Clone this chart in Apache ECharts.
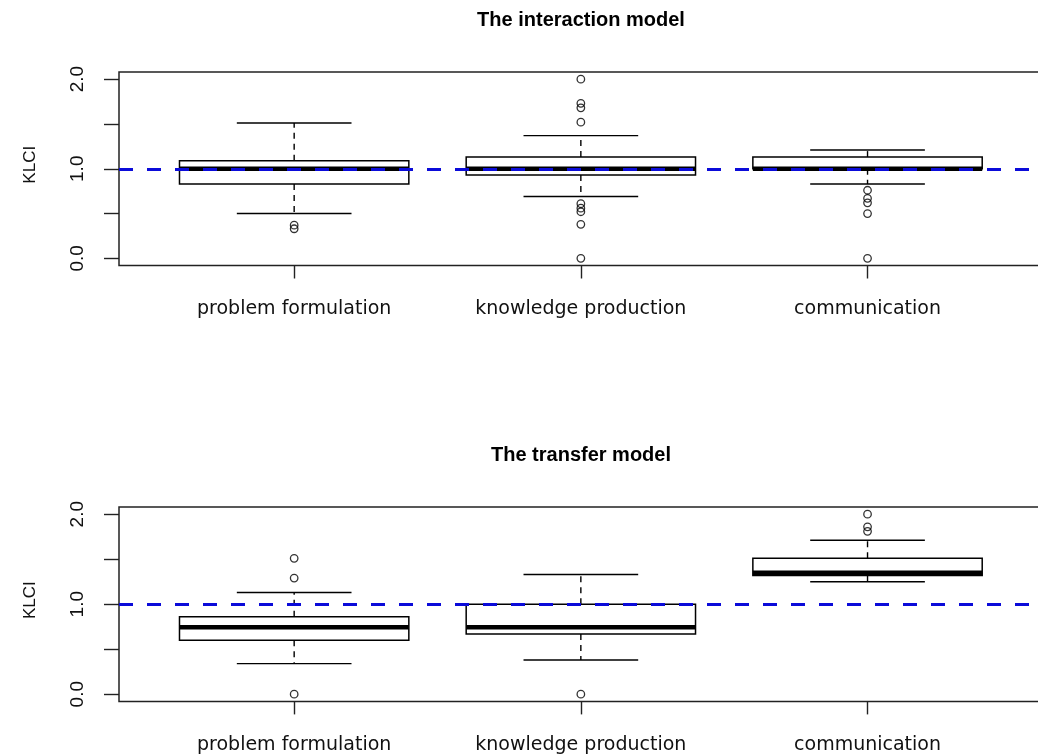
<!DOCTYPE html>
<html>
<head>
<meta charset="utf-8">
<title>KLCI boxplots</title>
<script src="https://cdn.jsdelivr.net/npm/echarts@6.0.0/dist/echarts.min.js"></script>
<style>
  html, body { margin: 0; padding: 0; background: #fff; }
  #chart { width: 1038px; height: 754px; }
</style>
</head>
<body>
<div id="chart"></div>
<script>
// categories on the x axis (positions 1, 2, 3)
const categories = ['problem formulation', 'knowledge production', 'communication']

// box stats per category: [lower whisker, Q1, median, Q3, upper whisker]
const interactionStats = [
  [0.50, 0.83, 1.00, 1.09, 1.51],
  [0.69, 0.93, 1.00, 1.13, 1.37],
  [0.83, 1.00, 1.00, 1.13, 1.21]
]
const interactionOutliers = [
  [0.33, 0.37],
  [0.00, 0.38, 0.52, 0.56, 0.61, 1.52, 1.68, 1.73, 2.00],
  [0.00, 0.50, 0.62, 0.67, 0.76]
]

const transferStats = [
  [0.34, 0.60, 0.745, 0.86, 1.13],
  [0.38, 0.67, 0.745, 1.00, 1.33],
  [1.25, 1.32, 1.35, 1.51, 1.71]
]
const transferOutliers = [
  [0.00, 1.29, 1.51],
  [0.00],
  [1.81, 1.86, 2.00]
]

const yTicks = [0, 0.5, 1, 1.5, 2]
const yLabels = [0, 1, 2]
const refLevel = 1

const panels = [
  { title: 'The interaction model', stats: interactionStats, outliers: interactionOutliers, top: 72, height: 193.5, titleTop: 10 },
  { title: 'The transfer model', stats: transferStats, outliers: transferOutliers, top: 507, height: 194.4, titleTop: 445 }
]

const ink = '#111'

function renderBox(params, api) {
  const x = api.value(0)
  const lo = api.coord([x, api.value(1)])
  const q1 = api.coord([x, api.value(2)])
  const med = api.coord([x, api.value(3)])
  const q3 = api.coord([x, api.value(4)])
  const hi = api.coord([x, api.value(5)])
  const bw = api.size([0.8, 0])[0]
  const cw = api.size([0.4, 0])[0]
  const cx = med[0]
  const solid = { stroke: '#000', lineWidth: 1.4 }
  const dashed = { stroke: '#000', lineWidth: 1.4, lineDash: [6, 5] }
  return {
    type: 'group',
    children: [
      { type: 'line', shape: { x1: cx, y1: q3[1], x2: cx, y2: hi[1] }, style: dashed },
      { type: 'line', shape: { x1: cx, y1: q1[1], x2: cx, y2: lo[1] }, style: dashed },
      { type: 'line', shape: { x1: cx - cw / 2, y1: hi[1], x2: cx + cw / 2, y2: hi[1] }, style: solid },
      { type: 'line', shape: { x1: cx - cw / 2, y1: lo[1], x2: cx + cw / 2, y2: lo[1] }, style: solid },
      {
        type: 'rect',
        shape: { x: cx - bw / 2, y: q3[1], width: bw, height: q1[1] - q3[1] },
        style: { fill: '#fff', stroke: '#000', lineWidth: 1.5 }
      },
      { type: 'line', shape: { x1: cx - bw / 2, y1: med[1], x2: cx + bw / 2, y2: med[1] }, style: { stroke: '#000', lineWidth: 4.5 } }
    ]
  }
}

const option = {
  backgroundColor: '#fff',
  animation: false,
  title: [],
  grid: [],
  xAxis: [],
  yAxis: [],
  series: []
}

panels.forEach((p, i) => {
  option.title.push({
    text: p.title,
    left: 581,
    top: p.titleTop,
    padding: 0,
    textAlign: 'center',
    textStyle: { fontFamily: 'Liberation Sans', fontSize: 20, fontWeight: 'bold', color: '#000' }
  })
  option.grid.push({
    left: 119,
    top: p.top,
    width: 923.7,
    height: p.height,
    outerBoundsMode: 'none',
    containLabel: false,
    show: true,
    backgroundColor: 'transparent',
    borderColor: '#222',
    borderWidth: 1.5
  })
  option.xAxis.push({
    type: 'value',
    gridIndex: i,
    min: 0.389,
    max: 3.611,
    axisLine: { show: false, onZero: false },
    splitLine: { show: false },
    axisTick: { show: true, length: 13, customValues: [1, 2, 3], lineStyle: { color: '#222', width: 1.4 } },
    axisLabel: {
      customValues: [1, 2, 3],
      margin: 34,
      fontFamily: 'DejaVu Sans',
      fontSize: 19,
      color: ink,
      formatter: v => categories[Math.round(v) - 1]
    }
  })
  option.yAxis.push({
    type: 'value',
    gridIndex: i,
    min: -0.08,
    max: 2.08,
    name: 'KLCI',
    nameLocation: 'middle',
    nameRotate: 90,
    nameGap: 80,
    nameTextStyle: { fontFamily: 'Liberation Sans', fontSize: 17, color: ink, padding: [0, 0, 0, 8] },
    axisLine: { show: false, onZero: false },
    splitLine: { show: false },
    axisTick: { show: true, length: 15, customValues: yTicks, lineStyle: { color: '#222', width: 1.4 } },
    axisLabel: {
      customValues: yLabels,
      rotate: 90,
      margin: 32,
      fontFamily: 'Liberation Sans',
      fontSize: 19,
      color: ink,
      formatter: v => v.toFixed(1)
    }
  })
  option.series.push({
    type: 'custom',
    xAxisIndex: i,
    yAxisIndex: i,
    renderItem: renderBox,
    encode: { x: 0, y: [1, 2, 3, 4, 5] },
    data: p.stats.map((s, k) => [k + 1].concat(s)),
    z: 2
  })
  const pts = []
  p.outliers.forEach((list, k) => list.forEach(v => pts.push([k + 1, v])))
  option.series.push({
    type: 'scatter',
    xAxisIndex: i,
    yAxisIndex: i,
    data: pts,
    symbol: 'circle',
    symbolSize: 7.5,
    itemStyle: { color: 'transparent', borderColor: '#000', borderWidth: 1.3 },
    z: 3,
    markLine: {
      silent: true,
      symbol: 'none',
      label: { show: false },
      lineStyle: { color: '#0b0bd9', width: 3, type: [14, 14] },
      data: [{ yAxis: refLevel }],
      z: 5
    }
  })
})

const chart = echarts.init(document.getElementById('chart'))
chart.setOption(option)
</script>
</body>
</html>
